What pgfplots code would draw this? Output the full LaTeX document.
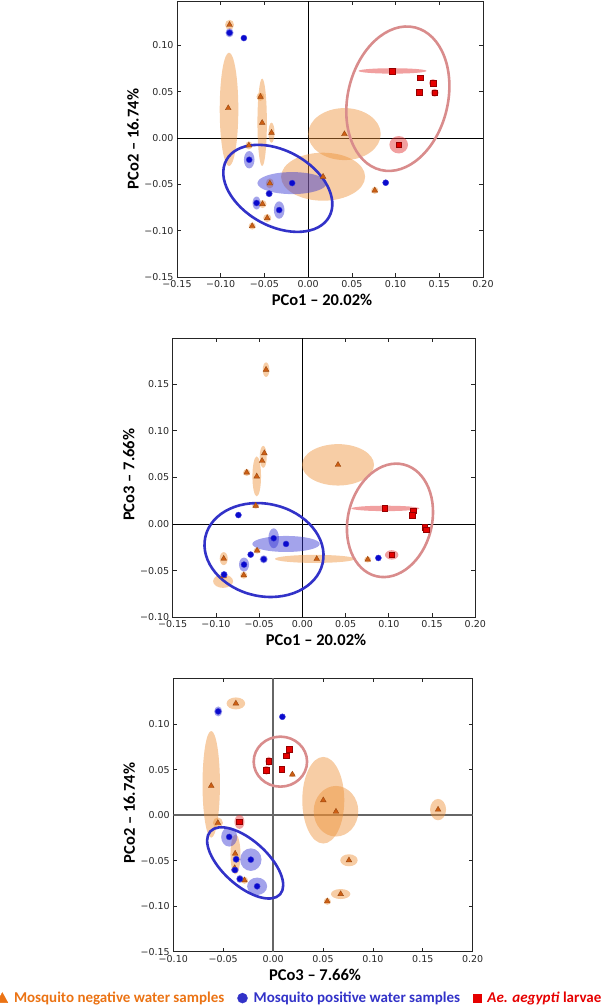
\documentclass[border=0pt]{standalone}
\usepackage{fontspec}
\setmainfont{Carlito}
\newfontfamily\dejavu{DejaVu Sans}
\usepackage{pgfplots}
\pgfplotsset{compat=1.18}

\definecolor{ellor}{RGB}{237,144,55}
\definecolor{ellbl}{RGB}{50,50,210}
\definecolor{ellrd}{RGB}{225,45,45}
\definecolor{mkor}{RGB}{205,95,20}
\definecolor{mkbl}{RGB}{10,10,205}
\definecolor{mkrd}{RGB}{230,0,0}
\definecolor{olbl}{RGB}{50,50,200}
\definecolor{olpk}{RGB}{217,140,140}
\definecolor{txor}{RGB}{235,115,20}
\definecolor{txbl}{RGB}{50,50,200}
\definecolor{txrd}{RGB}{230,0,0}

\pgfplotsset{
  ellbase/.style={only marks, scatter, forget plot, mark=o, mark size=0.01pt,
    mark options={draw opacity=0},
    visualization depends on=value \thisrow{a}\as\ea,
    visualization depends on=value \thisrow{b}\as\eb,
    visualization depends on=value \thisrow{t}\as\et,
    scatter/@post marker code/.code={}},
  fillell/.style={ellbase, scatter/@pre marker code/.code={%
    \pgfscope
    \pgfsetfillcolor{#1}\pgfsetfillopacity{0.45}%
    \pgftransformrotate{\et}%
    \pgfpathellipse{\pgfpointorigin}{\pgfqpoint{\ea pt}{0pt}}{\pgfqpoint{0pt}{\eb pt}}%
    \pgfusepath{fill}%
    \endpgfscope}},
  lineell/.style={ellbase, scatter/@pre marker code/.code={%
    \pgfscope
    \pgfsetstrokecolor{#1}\pgfsetstrokeopacity{1}\pgfsetlinewidth{2.6pt}%
    \pgftransformrotate{\et}%
    \pgfpathellipse{\pgfpointorigin}{\pgfqpoint{\ea pt}{0pt}}{\pgfqpoint{0pt}{\eb pt}}%
    \pgfusepath{stroke}%
    \endpgfscope}},
  negmk/.style={only marks, mark=triangle*, mark size=3.3pt, mark options={fill=mkor, draw=mkor!75!black, line width=0.4pt}},
  posmk/.style={only marks, mark=*, mark size=3pt, mark options={fill=mkbl, draw=mkbl!80!white, line width=0.4pt}},
  redmk/.style={only marks, mark=square*, mark size=2.8pt, mark options={fill=mkrd, draw=mkrd!65!black, line width=0.5pt}},
  pcoa/.style={scale only axis, anchor=south west,
    axis line style={black!85, line width=0.8pt},
    tick align=inside, major tick length=4pt,
    tick style={black!85, line width=0.7pt},
    ticklabel style={font=\dejavu\fontsize{9.5}{11}\selectfont, text=black!85},
    every axis x label/.style={at={(rel axis cs:0.5,0)}, xshift=-8pt, yshift=-23pt, anchor=center, font=\bfseries\fontsize{16.5}{19}\selectfont},
    every axis y label/.style={at={(rel axis cs:0,0.5)}, xshift=-44pt, rotate=90, anchor=center, font=\bfseries\fontsize{16.5}{19}\selectfont},
    clip=true},
}

\begin{document}
\begin{tikzpicture}
\path[use as bounding box] (0pt,0pt) rectangle (600pt,-1007pt);

% ---------------- Plot 1: PCo1 vs PCo2 ----------------
\begin{axis}[pcoa, at={(177pt,-277pt)}, width=306pt, height=276pt,
  xmin=-0.15, xmax=0.20, ymin=-0.15, ymax=0.148,
  xtick={-0.15,-0.10,-0.05,0,0.05,0.10,0.15,0.20},
  xticklabels={−0.15,−0.10,−0.05,0.00,0.05,0.10,0.15,0.20},
  ytick={-0.15,-0.10,-0.05,0,0.05,0.10},
  yticklabels={−0.15,−0.10,−0.05,0.00,0.05,0.10},
  xlabel={PCo1 – 20.02\%}, ylabel={PCo2 – 16.74\%}]
\addplot[black, line width=0.8pt, forget plot] coordinates {(0,-0.15) (0,0.148)};
\addplot[black, line width=0.8pt, forget plot] coordinates {(-0.15,0) (0.20,0)};
\addplot[fillell=ellor] table {
x y a b t
-0.0899 0.1223 4.5 5 0
-0.0905 0.031 9.3 56.7 0
-0.0526 0.017 4.7 43.7 0
-0.0545 0.0446 4 4 0
-0.0419 0.0058 3 10 0
-0.0678 -0.0079 3.5 4 0
0.0415 0.0043 36.3 26 0
0.0171 -0.0417 42 24 0
-0.0438 -0.0489 4 5 0
-0.0522 -0.0712 4 4 0
-0.0468 -0.0863 4 4 0
-0.064 -0.095 3.5 3.5 0
0.0762 -0.0565 3.5 3.5 0
};
\addplot[fillell=ellbl] table {
x y a b t
-0.0899 0.1137 4 4.5 0
-0.0674 -0.0234 5.3 8.7 0
-0.0183 -0.0486 34.7 11 0
-0.0446 -0.06 3.5 3.5 0
-0.059 -0.0701 4 6.5 0
-0.0331 -0.0777 5.3 8.7 0
0.0887 -0.0482 3 3 0
};
\addplot[fillell=ellrd] table {
x y a b t
0.0965 0.0725 34 2.7 0
0.1428 0.0594 4 4 0
0.1447 0.0489 4 4 0
0.1036 -0.0072 9.3 8.7 0
};
\addplot[lineell=olbl] table {
x y a b t
-0.0347 -0.0543 58.7 37.7 -28.9
};
\addplot[lineell=olpk] table {
x y a b t
0.1026 0.0425 50 73.3 -13.5
};
\addplot[negmk] table {
x y
-0.0899 0.1223
-0.0914 0.0324
-0.0545 0.0446
-0.0526 0.0165
-0.0419 0.0058
-0.0678 -0.0079
0.0415 0.0043
0.0171 -0.0417
-0.0438 -0.0489
-0.0522 -0.0712
-0.0468 -0.0863
-0.064 -0.095
0.0762 -0.0565
};
\addplot[posmk] table {
x y
-0.0899 0.1137
-0.0735 0.108
-0.0674 -0.0234
-0.0183 -0.0486
-0.0446 -0.06
-0.059 -0.0701
-0.0331 -0.0777
0.0887 -0.0482
};
\addplot[redmk] table {
x y
0.096 0.0723
0.128 0.0651
0.1428 0.0594
0.1272 0.0496
0.1447 0.0489
0.1036 -0.0072
};
\end{axis}

% ---------------- Plot 2: PCo1 vs PCo3 ----------------
\begin{axis}[pcoa, at={(172.7pt,-617.3pt)}, width=302.6pt, height=279pt,
  xmin=-0.15, xmax=0.20, ymin=-0.10, ymax=0.199,
  xtick={-0.15,-0.10,-0.05,0,0.05,0.10,0.15,0.20},
  xticklabels={−0.15,−0.10,−0.05,0.00,0.05,0.10,0.15,0.20},
  ytick={-0.10,-0.05,0,0.05,0.10,0.15},
  yticklabels={−0.10,−0.05,0.00,0.05,0.10,0.15},
  every axis y label/.append style={xshift=3pt},
  xlabel={PCo1 – 20.02\%}, ylabel={PCo3 – 7.66\%}]
\addplot[black, line width=0.8pt, forget plot] coordinates {(0,-0.10) (0,0.199)};
\addplot[black, line width=0.8pt, forget plot] coordinates {(-0.15,0) (0.20,0)};
\addplot[fillell=ellor] table {
x y a b t
-0.042 0.1654 3.3 7.3 0
-0.0453 0.072 3.5 11 0
-0.0644 0.0552 3.5 3.5 0
-0.0528 0.051 4.3 20 0
0.0412 0.0634 36 20.7 0
-0.054 0.0196 3.5 3 0
-0.0524 -0.0285 3.5 3 0
-0.091 -0.0371 4 6.5 0
0.0146 -0.0374 40 4 0
0.0756 -0.0381 3.5 3 0
-0.0678 -0.0549 3.5 3.5 0
-0.0917 -0.0613 10 6.7 0
};
\addplot[fillell=ellbl] table {
x y a b t
-0.0332 -0.0153 5.3 10 0
-0.0189 -0.0214 33.7 8 0
-0.0447 -0.0378 4 4 0
-0.0675 -0.0435 5 7 0
-0.0906 -0.0542 3.5 3.5 0
};
\addplot[fillell=ellrd] table {
x y a b t
0.096 0.0167 34 2.7 0
0.1033 -0.0331 6.7 4.7 0
0.1423 -0.005 3.5 4 0
};
\addplot[lineell=olbl] table {
x y a b t
-0.0444 -0.0279 60.1 46.2 -12.6
};
\addplot[lineell=olpk] table {
x y a b t
0.1013 0.0039 42 57.5 -13.9
};
\addplot[negmk] table {
x y
-0.042 0.1654
-0.044 0.0759
-0.0466 0.0677
-0.0644 0.0552
-0.0528 0.051
0.0412 0.0634
-0.054 0.0196
-0.0524 -0.0285
-0.091 -0.0371
0.0166 -0.0374
0.0756 -0.0381
-0.0678 -0.0549
-0.0912 -0.0560
};
\addplot[posmk] table {
x y
-0.074 0.0096
-0.0332 -0.0153
-0.0189 -0.0214
-0.0598 -0.0328
-0.0447 -0.0378
-0.0675 -0.0435
-0.0906 -0.0542
0.0879 -0.0364
};
\addplot[redmk] table {
x y
0.0952 0.0167
0.128 0.0143
0.1272 0.0096
0.1415 -0.0036
0.143 -0.0061
0.1033 -0.0331
};
\end{axis}

% ---------------- Plot 3: PCo3 vs PCo2 ----------------
\begin{axis}[pcoa, at={(173.3pt,-951.7pt)}, width=299.4pt, height=273.4pt,
  xmin=-0.10, xmax=0.20, ymin=-0.15, ymax=0.1505,
  xtick={-0.10,-0.05,0,0.05,0.10,0.15,0.20},
  xticklabels={−0.10,−0.05,0.00,0.05,0.10,0.15,0.20},
  ytick={-0.15,-0.10,-0.05,0,0.05,0.10},
  yticklabels={−0.15,−0.10,−0.05,0.00,0.05,0.10},
  every axis y label/.append style={xshift=2pt},
  xlabel={PCo3 – 7.66\%}, ylabel={PCo2 – 16.74\%},
  legend columns=3,
  legend style={at={(0.4233,-0.1697)}, anchor=center, draw=none, fill=none,
    font=\bfseries\fontsize{15}{18}\selectfont, inner sep=0pt,
    /tikz/every odd column/.append style={column sep=4pt},
    /tikz/every even column/.append style={column sep=11pt}}]
\addplot[black!60, line width=1.6pt, forget plot] coordinates {(0,-0.15) (0,0.1505)};
\addplot[black!60, line width=1.6pt, forget plot] coordinates {(-0.10,0) (0.20,0)};
\addplot[fillell=ellor] table {
x y a b t
-0.0373 0.1229 9.3 6 0
-0.062 0.034 8.7 53.3 0
-0.0553 -0.0084 5 5.5 0
0.0193 0.0448 2.5 2.5 0
0.0503 0.0165 21 43.3 0
0.063 0.0044 22.3 25.3 0
0.1653 0.0062 8 10.7 0
0.076 -0.0495 8.7 6 0
0.0677 -0.0866 9.7 5 0
0.0543 -0.0946 3.5 3.5 0
-0.0377 -0.0430 5 20 0
-0.0287 -0.0715 3.5 3.5 0
};
\addplot[fillell=ellbl] table {
x y a b t
-0.055 0.1141 4 5 0
-0.044 -0.0238 8 9.7 0
-0.037 -0.0484 3.5 3.5 0
-0.0223 -0.0488 10.7 11.3 0
-0.0383 -0.0602 4 3 0
-0.0333 -0.07 3.5 4 0
-0.016 -0.0781 10 8.7 0
};
\addplot[fillell=ellrd] table {
x y a b t
-0.0043 0.0594 3.5 4.5 0
-0.0067 0.0495 3.5 4.5 0
-0.0337 -0.0073 5 7 0
};
\addplot[lineell=olpk] table {
x y a b t
0.0073 0.0589 26.7 25 0
};
\addplot[lineell=olbl] table {
x y a b t
-0.028 -0.0524 47 22.5 -42
};
\addplot[negmk, legend image code/.code={\fill[txor] (0pt,-4.5pt) -- (11pt,-4.5pt) -- (5.5pt,5.5pt) -- cycle;}] table {
x y
-0.0373 0.1229
-0.062 0.0323
-0.0553 -0.0084
0.0193 0.0448
0.0503 0.0165
0.063 0.004
0.1653 0.0062
0.076 -0.0495
0.0677 -0.0866
0.0543 -0.0946
-0.038 -0.0422
-0.0287 -0.0715
-0.0385 -0.058
};
\addlegendentry{\textcolor{txor}{Mosquito negative water samples}}
\addplot[posmk, legend image code/.code={\fill[txbl] (5pt,0pt) circle (5pt);}] table {
x y
-0.055 0.1141
0.0093 0.1082
-0.044 -0.0238
-0.037 -0.0484
-0.0223 -0.0488
-0.0383 -0.0602
-0.0333 -0.07
-0.016 -0.0781
};
\addlegendentry{\textcolor{txbl}{Mosquito positive water samples}}
\addplot[redmk, legend image code/.code={\fill[txrd] (0pt,-4pt) rectangle (8pt,4pt);}] table {
x y
0.0163 0.0726
0.013 0.0653
-0.0043 0.0594
-0.0067 0.0495
0.0087 0.0503
-0.0337 -0.0073
};
\addlegendentry{\textcolor{txrd}{\textit{Ae. aegypti} larvae}}
\end{axis}
\end{tikzpicture}
\end{document}
